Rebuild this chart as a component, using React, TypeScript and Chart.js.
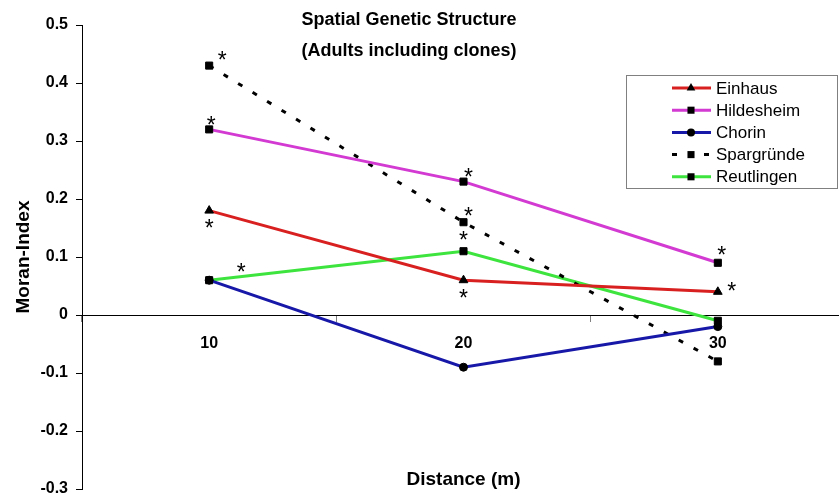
import React, { useEffect, useRef } from 'react';
import { Chart, registerables } from 'chart.js';

Chart.register(...registerables);

// ---------- data ----------
const distances = ['10', '20', '30'];
const seriesNames = ['Einhaus', 'Hildesheim', 'Chorin', 'Spargründe', 'Reutlingen'];
const einhaus = [0.18, 0.06, 0.04];
const hildesheim = [0.32, 0.23, 0.09];
const chorin = [0.06, -0.09, -0.02];
const spargruende = [0.43, 0.16, -0.08];
const reutlingen = [0.06, 0.11, -0.01];

// significance flags (asterisks)
const einhausSig = [true, true, true];
const hildesheimSig = [true, true, true];
const chorinSig = [false, false, false];
const spargruendeSig = [true, true, false];
const reutlingenSig = [true, true, false];

const yMin = -0.3;
const yMax = 0.5;
const yStep = 0.1;
const titleLines = ['Spatial Genetic Structure', '(Adults including clones)'];
const xTitle = 'Distance (m)';
const yTitle = 'Moran-Index';

// ---------- styles ----------
const FONT = '"Liberation Sans", Arial, sans-serif';
Chart.defaults.font.family = FONT;

const COLORS = ['#d92020', '#d23ad2', '#1818a8', '#000000', '#3ee43e'];
const POINT_STYLES = ['triangle', 'rect', 'circle', 'rect', 'rect'];
const POINT_RADII = [5, 5, 4, 5, 5];
const DASHES: number[][] = [[], [], [], [5, 12], []];
// offsets (px) of the asterisk from its point
const STAR_OFFSETS: number[][][] = [
  [[0, 12], [0, 12], [14, -6]],
  [[2, -10], [5, -10], [4, -13]],
  [[0, 0], [0, 0], [0, 0]],
  [[13, -11], [5, -12], [0, 0]],
  [[32, -14], [0, -17], [0, 0]],
];

const seriesValues = [einhaus, hildesheim, chorin, spargruende, reutlingen];
const seriesSig = [einhausSig, hildesheimSig, chorinSig, spargruendeSig, reutlingenSig];

function drawMarker(ctx: CanvasRenderingContext2D, style: string, x: number, y: number, r: number) {
  ctx.beginPath();
  if (style === 'triangle') {
    ctx.moveTo(x, y - r);
    ctx.lineTo(x + r * 0.866, y + r * 0.5);
    ctx.lineTo(x - r * 0.866, y + r * 0.5);
    ctx.closePath();
  } else if (style === 'circle') {
    ctx.arc(x, y, r, 0, Math.PI * 2);
  } else {
    const s = r * Math.SQRT1_2;
    ctx.rect(x - s, y - s, 2 * s, 2 * s);
  }
  ctx.fill();
}

const overlayPlugin = {
  id: 'overlay',
  afterDatasetsDraw(chart: any) {
    const ctx: CanvasRenderingContext2D = chart.ctx;
    const area = chart.chartArea;
    ctx.save();
    // asterisks
    ctx.fillStyle = '#000';
    ctx.font = `23px ${FONT}`;
    ctx.textAlign = 'center';
    ctx.textBaseline = 'alphabetic';
    chart.data.datasets.forEach((ds: any, di: number) => {
      const meta = chart.getDatasetMeta(di);
      const sig = seriesSig[di];
      meta.data.forEach((pt: any, i: number) => {
        if (!sig[i]) return;
        const [dx, dy] = STAR_OFFSETS[di][i];
        ctx.fillText('*', pt.x + dx, pt.y + dy + 13.3);
      });
    });

    // title
    ctx.font = `bold 18px ${FONT}`;
    ctx.textBaseline = 'middle';
    ctx.fillText(titleLines[0], 409, 20);
    ctx.fillText(titleLines[1], 409, 51);

    // x-axis title
    ctx.font = `bold 19px ${FONT}`;
    ctx.fillText(xTitle, (area.left + area.right) / 2, 480);

    // legend
    const bx = 626.5, by = 75.5, bw = 211, bh = 113;
    ctx.fillStyle = '#fff';
    ctx.fillRect(bx, by, bw, bh);
    ctx.strokeStyle = '#808080';
    ctx.lineWidth = 1;
    ctx.strokeRect(bx, by, bw, bh);
    ctx.font = `17px ${FONT}`;
    ctx.textAlign = 'left';
    chart.data.datasets.forEach((ds: any, di: number) => {
      const y = 88 + di * 22.2;
      ctx.strokeStyle = ds.borderColor;
      ctx.lineWidth = 3;
      ctx.beginPath();
      if (DASHES[di].length) {
        ctx.moveTo(672, y);
        ctx.lineTo(677, y);
        ctx.moveTo(704, y);
        ctx.lineTo(709, y);
      } else {
        ctx.moveTo(672, y);
        ctx.lineTo(711, y);
      }
      ctx.stroke();
      ctx.fillStyle = '#000';
      drawMarker(ctx, POINT_STYLES[di], 691, y, POINT_RADII[di]);
      ctx.fillText(ds.label, 716, y + 1);
    });
    ctx.restore();
  },
};

export default function App() {
  const ref = useRef<HTMLCanvasElement | null>(null);

  useEffect(() => {
    const canvas = ref.current!;
    const datasets = seriesNames.map((name, i) => ({
      label: name,
      data: seriesValues[i],
      borderColor: COLORS[i],
      backgroundColor: COLORS[i],
      borderWidth: 3,
      borderDash: DASHES[i],
      pointStyle: POINT_STYLES[i] as any,
      pointRadius: POINT_RADII[i],
      pointBackgroundColor: '#000',
      pointBorderColor: '#000',
      pointBorderWidth: 1,
      tension: 0,
      fill: false,
    }));

    const chart = new Chart(canvas, {
      type: 'line',
      data: { labels: distances, datasets },
      options: {
        responsive: false,
        animation: false,
        devicePixelRatio: 1,
        layout: { padding: { top: 25, bottom: 5, left: 0, right: 0 } },
        plugins: {
          legend: { display: false },
          title: { display: false },
          tooltip: { enabled: false },
        },
        scales: {
          x: {
            type: 'category',
            position: { y: 0 } as any,
            offset: true,
            grid: {
              offset: true,
              drawOnChartArea: false,
              drawTicks: true,
              tickLength: 6,
              color: '#808080',
            },
            border: { display: true, color: '#000', width: 1 },
            ticks: {
              color: '#000',
              font: { size: 16, weight: 'bold' },
              padding: 13,
              maxRotation: 0,
            },
            afterFit: (s: any) => {
              s.paddingLeft = 0;
              s.paddingRight = 0;
            },
          },
          y: {
            min: yMin,
            max: yMax,
            position: 'left',
            ticks: {
              stepSize: yStep,
              color: '#000',
              font: { size: 16, weight: 'bold' },
              padding: 8,
              callback: (v: any) => String(Number(Number(v).toFixed(1))),
            },
            grid: { drawOnChartArea: false, tickLength: 6, color: '#000' },
            border: { color: '#000', width: 1 },
            title: {
              display: true,
              text: yTitle,
              color: '#000',
              font: { size: 19, weight: 'bold' },
              padding: { top: 12, bottom: 0 },
            },
            afterFit: (s: any) => {
              s.width = 82;
              s.paddingTop = 0;
              s.paddingBottom = 0;
            },
          },
        },
      } as any,
      plugins: [overlayPlugin],
    });
    return () => chart.destroy();
  }, []);

  return (
    <div style={{ position: 'fixed', left: 0, top: 0, width: 839, height: 495, overflow: 'hidden', background: '#fff' }}>
      <canvas ref={ref} width={851} height={495} style={{ display: 'block' }} />
    </div>
  );
}
